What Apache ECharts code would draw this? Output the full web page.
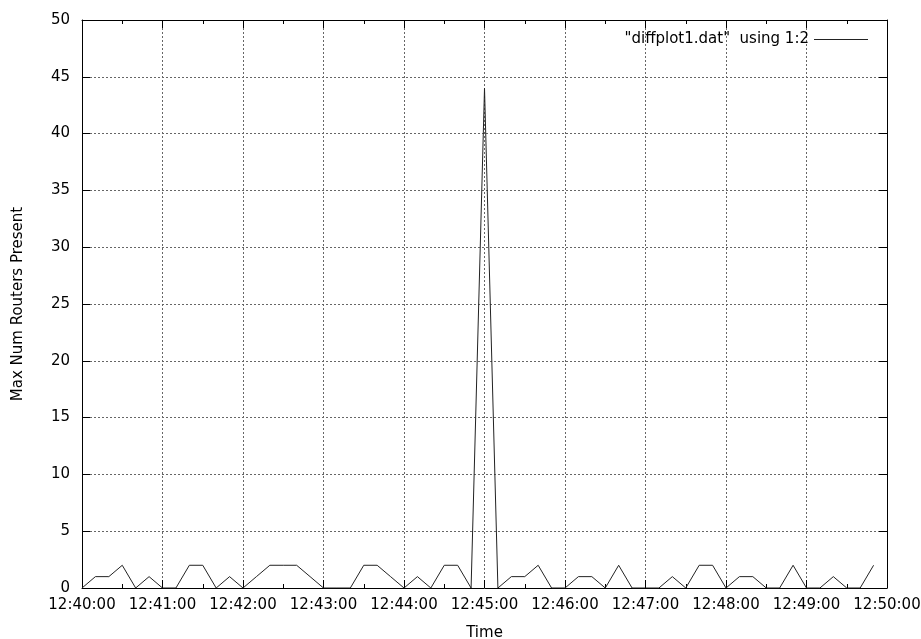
<!DOCTYPE html>
<html>
<head>
<meta charset="utf-8">
<script src="https://cdn.jsdelivr.net/npm/echarts@6/dist/echarts.min.js"></script>
<style>html,body{margin:0;padding:0;background:#fff}#c{width:921px;height:639px}</style>
</head>
<body>
<div id="c"></div>
<script>
var times = [
  "12:40:00","12:40:10","12:40:20","12:40:30","12:40:40","12:40:50",
  "12:41:00","12:41:10","12:41:20","12:41:30","12:41:40","12:41:50",
  "12:42:00","12:42:10","12:42:20","12:42:30","12:42:40","12:42:50",
  "12:43:00","12:43:10","12:43:20","12:43:30","12:43:40","12:43:50",
  "12:44:00","12:44:10","12:44:20","12:44:30","12:44:40","12:44:50",
  "12:45:00","12:45:10","12:45:20","12:45:30","12:45:40","12:45:50",
  "12:46:00","12:46:10","12:46:20","12:46:30","12:46:40","12:46:50",
  "12:47:00","12:47:10","12:47:20","12:47:30","12:47:40","12:47:50",
  "12:48:00","12:48:10","12:48:20","12:48:30","12:48:40","12:48:50",
  "12:49:00","12:49:10","12:49:20","12:49:30","12:49:40","12:49:50"
];
var routers = [
  0,1,1,2,0,1,
  0,0,2,2,0,1,
  0,1,2,2,2,1,
  0,0,0,2,2,1,
  0,1,0,2,2,0,
  44,0,1,1,2,0,
  0,1,1,0,2,0,
  0,0,1,0,2,2,
  0,1,1,0,0,2,
  0,0,1,0,0,2
];
var xTickLabels = ["12:40:00","12:41:00","12:42:00","12:43:00","12:44:00","12:45:00","12:46:00","12:47:00","12:48:00","12:49:00","12:50:00"];
var yTicks = [0,5,10,15,20,25,30,35,40,45,50];
var seriesName = '"diffplot1.dat"  using 1:2';

function toSec(t){var p=t.split(':');return (+p[0])*3600+(+p[1])*60+(+p[2]);}
var t0 = toSec(xTickLabels[0]);
var tEnd = toSec(xTickLabels[xTickLabels.length-1]);
var data = times.map(function(t,i){return [toSec(t)-t0, routers[i]];});

var font = 'DejaVu Sans, Liberation Sans, Arial, sans-serif';
var fs = 15;
var chart = echarts.init(document.getElementById('c'), null, {renderer:'canvas'});
var baseX = {
  type:'value', min:0, max:tEnd-t0, interval:60,
  axisLine:{show:true,onZero:false,lineStyle:{color:'#000',width:1}},
  axisTick:{show:true,inside:true,length:8,lineStyle:{color:'#000'}},
  minorTick:{show:true,splitNumber:2,length:4,lineStyle:{color:'#000'}},
  splitLine:{show:false}
};
var baseY = {
  type:'value', min:yTicks[0], max:yTicks[yTicks.length-1], interval:5,
  axisLine:{show:true,onZero:false,lineStyle:{color:'#000',width:1}},
  axisTick:{show:true,inside:true,length:8,lineStyle:{color:'#000'}},
  splitLine:{show:false}
};
chart.setOption({
  animation:false,
  backgroundColor:'#fff',
  textStyle:{fontFamily:font},
  grid:{left:82,right:34,top:20,bottom:51,containLabel:false,outerBoundsMode:'none'},
  legend:{
    show:true, right:48, top:27, align:'right',
    icon:'rect', itemWidth:54, itemHeight:1,
    textStyle:{fontFamily:font,fontSize:fs,color:'#000'},
    data:[{name:seriesName}]
  },
  xAxis:[
    Object.assign({}, baseX, {
      position:'bottom',
      name:'Time', nameLocation:'middle', nameGap:38,
      nameTextStyle:{fontFamily:font,fontSize:fs,color:'#000'},
      axisLabel:{show:true,margin:10,fontFamily:font,fontSize:fs,color:'#000',
        formatter:function(v){var s=t0+v;var h=Math.floor(s/3600),m=Math.floor(s%3600/60),sec=s%60;
          function p(n){return (n<10?'0':'')+n;} return h+':'+p(m)+':'+p(sec);}},
      splitLine:{show:true,lineStyle:{color:'#666',type:[2,2],width:1}}
    }),
    Object.assign({}, baseX, {position:'top', axisLabel:{show:false}})
  ],
  yAxis:[
    Object.assign({}, baseY, {
      position:'left',
      name:'Max Num Routers Present', nameLocation:'middle', nameGap:56, nameRotate:90,
      nameTextStyle:{fontFamily:font,fontSize:fs,color:'#000'},
      axisLabel:{show:true,margin:12,fontFamily:font,fontSize:fs,color:'#000'},
      splitLine:{show:true,lineStyle:{color:'#666',type:[2,2],width:1}}
    }),
    Object.assign({}, baseY, {position:'right', axisLabel:{show:false}})
  ],
  series:[{
    name:seriesName, type:'line', xAxisIndex:0, yAxisIndex:0,
    data:data, symbol:'none', showSymbol:false,
    lineStyle:{color:'#222',width:1}, itemStyle:{color:'#222'},
    z:5
  }]
});
</script>
</body>
</html>
